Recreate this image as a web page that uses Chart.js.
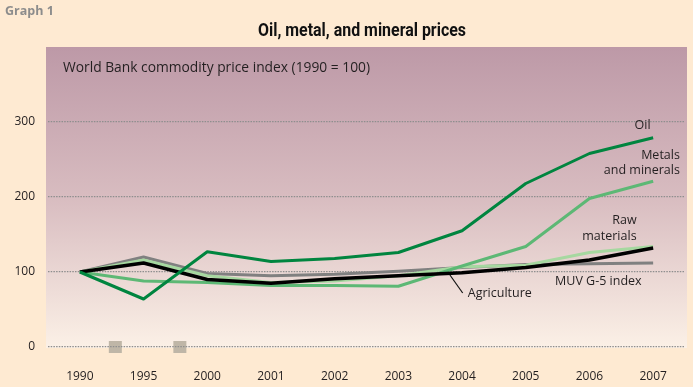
<!DOCTYPE html>
<html><head><meta charset="utf-8">
<script src="https://cdn.jsdelivr.net/npm/chart.js@4/dist/chart.umd.min.js"></script>
<style>html,body{margin:0;padding:0;background:#FEEAD2;}#wrap{width:693px;height:387px;position:relative;}</style>
</head><body><div id="wrap"><canvas id="c" width="693" height="387"></canvas></div>
<script>
const years = ['1990','1995','2000','2001','2002','2003','2004','2005','2006','2007'];
const oil = [100,64,127,114,118,126,155,218,258,279];
const metalsMinerals = [100,88,86,82,82,81,108,134,198,221];
const rawMaterials = [100,116,95,86,88,95,107,109,126,134];
const agriculture = [100,112,90,85,91,95,99,106,116,132];
const muvIndex = [100,120,98,95,97,101,106,110,111,112];
const yTicks = [0,100,200,300];
const chartTitle = 'Oil, metal, and mineral prices';
const graphLabel = 'Graph 1';
const subtitle = 'World Bank commodity price index (1990 = 100)';
// series labels: [text, x index, y value, align]
const seriesLabels = [
  ['Oil', 8.96, 296, 'right'],
  ['Metals', 9.42, 256, 'right'],
  ['and minerals', 9.42, 235, 'right'],
  ['Raw', 8.74, 169, 'right'],
  ['materials', 8.74, 148, 'right'],
  ['MUV G-5 index', 7.46, 87, 'left'],
  ['Agriculture', 6.09, 71, 'left']
];
const pointer = [[5.81, 96], [6.01, 72]];
const markers = [0.557, 1.57];

const FONT = '"Open Sans", "Noto Sans", sans-serif';
const TXT = '#231f20';

const decor = {
  id: 'decor',
  beforeDraw(chart) {
    const {ctx, chartArea: a, scales: {x, y}} = chart;
    ctx.save();
    ctx.fillStyle = '#FEEAD2';
    ctx.fillRect(0, 0, chart.width, chart.height);
    const g = ctx.createLinearGradient(0, a.top, 0, a.bottom);
    g.addColorStop(0, '#BD99A7');
    g.addColorStop(0.5, '#D8BCC0');
    g.addColorStop(1, '#FBF0E6');
    ctx.fillStyle = g;
    ctx.fillRect(a.left - 2, a.top, a.right - a.left + 4, a.bottom - a.top + 1);
    ctx.fillStyle = '#BFB6A7';
    markers.forEach(m => {
      const px = x.getPixelForValue(m), py = y.getPixelForValue(0);
      ctx.fillRect(px - 6.5, py - 6, 13, 12);
    });
    ctx.fillStyle = '#8C8C8C';
    ctx.font = 'bold 12.5px ' + FONT;
    ctx.textBaseline = 'alphabetic';
    ctx.textAlign = 'left';
    ctx.fillText(graphLabel, 5, 15);
    // title: condensed bold, fitted to width
    ctx.fillStyle = '#111';
    ctx.font = 'bold 18px "Roboto", "DejaVu Sans", sans-serif';
    ctx.textAlign = 'center';
    const w = ctx.measureText(chartTitle).width;
    const sx = Math.min(1, 208 / w);
    ctx.save();
    ctx.translate(362, 36);
    ctx.scale(sx, 1);
    ctx.fillText(chartTitle, 0, 0);
    ctx.restore();
    ctx.fillStyle = TXT;
    ctx.font = '13.8px ' + FONT;
    ctx.textAlign = 'left';
    ctx.textBaseline = 'middle';
    ctx.fillText(subtitle, 63, 68);
    ctx.restore();
  },
  afterDatasetsDraw(chart) {
    const {ctx, scales: {x, y}} = chart;
    ctx.save();
    ctx.fillStyle = TXT;
    ctx.font = '12.5px ' + FONT;
    ctx.textBaseline = 'middle';
    seriesLabels.forEach(([t, xi, v, al]) => {
      ctx.textAlign = al;
      ctx.fillText(t, x.getPixelForValue(xi), y.getPixelForValue(v));
    });
    ctx.strokeStyle = '#111';
    ctx.lineWidth = 1.2;
    ctx.beginPath();
    ctx.moveTo(x.getPixelForValue(pointer[0][0]), y.getPixelForValue(pointer[0][1]));
    ctx.lineTo(x.getPixelForValue(pointer[1][0]), y.getPixelForValue(pointer[1][1]));
    ctx.stroke();
    ctx.restore();
  }
};

const ds = (label, data, color, width, order) => ({
  label, data, borderColor: color, backgroundColor: color, borderWidth: width,
  pointRadius: 0, pointHoverRadius: 0, tension: 0, fill: false, order,
  borderJoinStyle: 'round', borderCapStyle: 'butt'
});

new Chart(document.getElementById('c'), {
  type: 'line',
  data: {
    labels: years,
    datasets: [
      ds('Oil', oil, '#00853F', 3, 1),
      ds('Agriculture', agriculture, '#000000', 3.5, 2),
      ds('Metals and minerals', metalsMinerals, '#5DB875', 3, 3),
      ds('Raw materials', rawMaterials, '#A6D8A0', 3, 4),
      ds('MUV G-5 index', muvIndex, '#808080', 3, 5)
    ]
  },
  options: {
    responsive: false, animation: false, devicePixelRatio: 1,
    layout: {padding: {left: 0, right: 8, top: 47, bottom: 0}},
    plugins: {legend: {display: false}, tooltip: {enabled: false}, title: {display: false}},
    scales: {
      x: {
        offset: true,
        grid: {display: false, drawTicks: false},
        border: {display: false},
        ticks: {color: TXT, font: {family: FONT, size: 12}, padding: 22, maxRotation: 0, autoSkip: false},
        afterFit(s) { s.height = 40; }
      },
      y: {
        min: 0, max: 400,
        afterBuildTicks(s) { s.ticks = yTicks.map(v => ({value: v})); },
        afterFit(s) { s.width = 48; },
        grid: {color: '#8E8E8E', lineWidth: 1.3, drawTicks: false},
        border: {display: false, dash: [1.5, 1.2]},
        ticks: {color: TXT, font: {family: FONT, size: 12}, padding: 13}
      }
    }
  },
  plugins: [decor]
});
</script></body></html>
